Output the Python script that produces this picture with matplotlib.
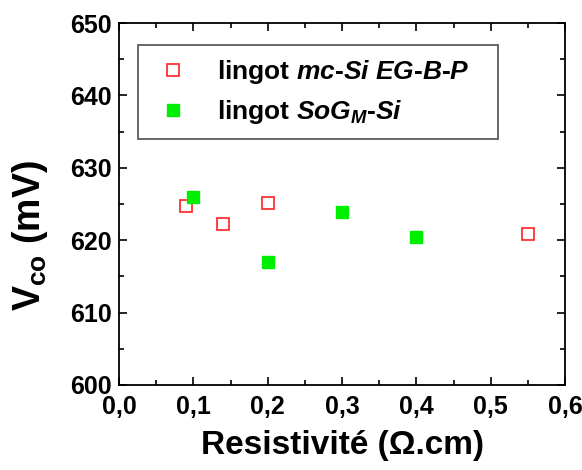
import numpy as np
import matplotlib
matplotlib.use('Agg')
import matplotlib.pyplot as plt
from matplotlib.ticker import MultipleLocator

plt.rcParams['font.family'] = 'Liberation Sans'
plt.rcParams['font.weight'] = 'bold'
plt.rcParams['mathtext.fontset'] = 'custom'
plt.rcParams['mathtext.rm'] = 'Liberation Sans:bold'
plt.rcParams['mathtext.it'] = 'Liberation Sans:italic:bold'
plt.rcParams['mathtext.bf'] = 'Liberation Sans:bold'

# lingot mc-Si EG-B-P
res_eg = [0.09, 0.14, 0.20, 0.55]
vco_eg = [624.7, 622.2, 625.1, 620.9]
# lingot SoG_M-Si
res_sog = [0.10, 0.20, 0.30, 0.40]
vco_sog = [626.0, 617.0, 623.9, 620.4]

xticks = [0.0, 0.1, 0.2, 0.3, 0.4, 0.5, 0.6]
xlabels = ['0,0', '0,1', '0,2', '0,3', '0,4', '0,5', '0,6']
yticks = [600, 610, 620, 630, 640, 650]

fig = plt.figure(figsize=(5.82, 4.70), dpi=100)
ax = fig.add_axes([0.2045, 0.181, 0.7665, 0.770])

ax.plot(res_eg, vco_eg, 's', ms=8.5, mfc='white', mec='#ff2020', mew=1.2,
        linestyle='none', label=r'lingot $mc$-$Si$ $EG$-$B$-$P$')
ax.plot(res_sog, vco_sog, 's', ms=9, mfc='#00ee00', mec='#00ee00',
        linestyle='none', label=r'lingot $SoG_M$-$Si$')

ax.set_xlim(0, 0.6)
ax.set_ylim(600, 650)
ax.set_xticks(xticks)
ax.set_xticklabels(xlabels)
ax.set_yticks(yticks)
ax.xaxis.set_minor_locator(MultipleLocator(0.05))
ax.yaxis.set_minor_locator(MultipleLocator(5))
ax.tick_params(which='both', direction='in', top=True, right=True, width=1.2)
ax.tick_params(which='major', length=6, labelsize=18)
ax.tick_params(axis='x', which='major', pad=7)
ax.tick_params(axis='y', which='major', pad=5)
ax.tick_params(which='minor', length=3.5)
for s in ax.spines.values():
    s.set_linewidth(1.3)

ax.set_xlabel('Resistivité (Ω.cm)', fontsize=24, fontweight='bold', labelpad=8)
ax.set_ylabel(r'V$_{\mathrm{co}}$ (mV)', fontsize=27, fontweight='bold')
ax.yaxis.set_label_coords(-0.155, 0.414)

leg = ax.legend(loc='upper left', bbox_to_anchor=(0.043, 0.6, 0.807, 0.339),
                mode='expand', fontsize=19,
                frameon=True, fancybox=False, edgecolor='#333333',
                borderaxespad=0, borderpad=0.5, handletextpad=0.9,
                labelspacing=0.45, handlelength=1.6)
leg.get_frame().set_linewidth(1.3)

fig.savefig('out.png', dpi=100)
